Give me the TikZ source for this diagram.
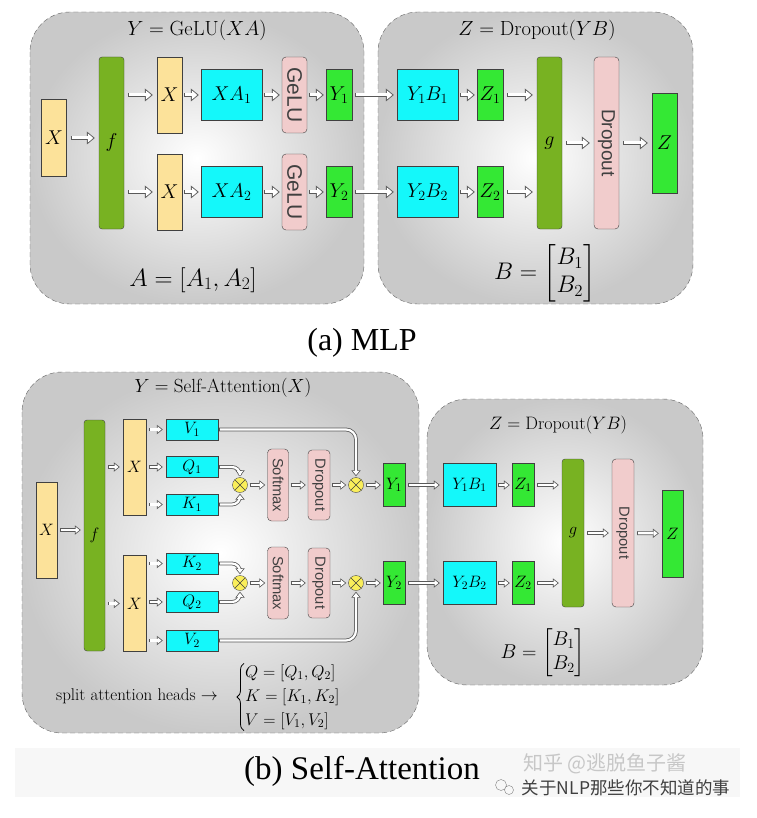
\RequirePackage{fix-cm}
\documentclass[tikz,border=0pt]{standalone}
\usepackage{amsmath,amssymb}
\usepackage{fontspec}
\usepackage{xcolor}
\usepackage{tikz}
\usetikzlibrary{arrows.meta,calc,positioning,decorations.pathreplacing}
\newfontfamily\hsans{Liberation Sans}
\newfontfamily\capfont{Liberation Serif}
\newfontfamily\cjk{Noto Sans CJK SC}
\definecolor{xyel}{RGB}{252,226,154}
\definecolor{fgrn}{RGB}{120,178,34}
\definecolor{ycyan}{RGB}{20,248,250}
\definecolor{gpink}{RGB}{241,204,204}
\definecolor{ygrn}{RGB}{52,232,52}
\definecolor{mulyel}{RGB}{250,238,90}

\begin{document}
\begin{tikzpicture}[x=1pt, y=-1pt,
    panel/.style={draw=black!60, dash pattern=on 5pt off 3pt, rounded corners=40pt, inner color=white, outer color=black!21},
    bx/.style={draw=black!75, inner sep=0pt},
    inbox/.style={bx, fill=xyel},
    fbox/.style={bx, fill=fgrn, rounded corners=3pt},
    cybox/.style={bx, fill=ycyan},
    pkbox/.style={bx, fill=gpink, rounded corners=4pt, text=black!75},
    grbox/.style={bx, fill=ygrn},
    mul/.style={circle, draw=black!70, fill=mulyel, minimum size=15pt, inner sep=0pt,
        path picture={\draw[black!75] (path picture bounding box.south west) -- (path picture bounding box.north east)
            (path picture bounding box.north west) -- (path picture bounding box.south east);}},
    % hollow arrows, (a) and (b) sizes
    harr/.style={draw=white, line width=3pt, -{Triangle[length=5.6pt, width=9.2pt, line width=0pt]},
        shorten >=#1+1.45pt, shorten <=#1+0.9pt,
        preaction={draw=black!65, line width=4.8pt, -{Triangle[length=8pt, width=13pt, line width=0pt]},
            shorten >=#1, shorten <=#1}},
    harr/.default=4pt,
    sarr/.style={draw=white, line width=2.2pt, -{Triangle[length=3.9pt, width=6.2pt, line width=0pt]},
        shorten >=#1+1.3pt, shorten <=#1+0.8pt,
        preaction={draw=black!65, line width=3.8pt, -{Triangle[length=6pt, width=9.5pt, line width=0pt]},
            shorten >=#1, shorten <=#1}},
    sarr/.default=3pt,
    big/.style={font=\fontsize{20}{23}\selectfont},
    small/.style={font=\fontsize{16.5}{19}\selectfont},
    eqn/.style={anchor=west, inner sep=1pt, font=\fontsize{17}{19.5}\selectfont}
]
\useasboundingbox (0,0) rectangle (756,818);

% ---------------- (a) MLP ----------------
\shadedraw[panel] (30,12) rectangle (364,304);
\shadedraw[panel] (378,12) rectangle (693,304);
\node[font=\fontsize{20.5}{24}\selectfont] (ttla) at (197,30) {$Y = \mathrm{GeLU}(XA)$};
\node[font=\fontsize{20.5}{24}\selectfont] (ttlza) at (537,30) {$Z = \mathrm{Dropout}(YB)$};

\node[inbox, big, minimum width=25pt, minimum height=77pt] (xa) at (54,138) {$X$};
\node[fbox, big, minimum width=25pt, minimum height=172pt] (fa) at (111.5,143) {$f$};
\foreach \i/\y in {1/95, 2/192} {
    \node[inbox, big, minimum width=25pt, minimum height=76pt] (xa\i) at (169.5,\y) {$X$};
    \node[cybox, big, minimum width=61pt, minimum height=51pt] (xaa\i) at (231.5,\y) {$XA_\i$};
    \node[pkbox, minimum width=25pt, minimum height=76pt, font=\hsans\fontsize{21}{23}\selectfont] (gelu\i) at (294.5,\y) {\rotatebox{-90}{GeLU}};
    \node[grbox, big, minimum width=26pt, minimum height=51pt] (ya\i) at (339,\y) {$Y_\i$};
    \node[cybox, big, minimum width=61pt, minimum height=51pt] (yba\i) at (427.5,\y) {$Y_\i B_\i$};
    \node[grbox, big, minimum width=26pt, minimum height=51pt] (za\i) at (490,\y) {$Z_\i$};
}
\node[fbox, big, minimum width=25pt, minimum height=172pt] (ga) at (549.5,143) {$g$};
\node[pkbox, minimum width=25pt, minimum height=172pt, font=\hsans\fontsize{19}{21}\selectfont] (dra) at (606.5,143) {\rotatebox{-90}{Dropout}};
\node[grbox, big, minimum width=25pt, minimum height=100pt] (zouta) at (664.5,143) {$Z$};

\draw[harr] (xa) -- (xa -| fa.west);
\foreach \i in {1,2} {
    \draw[harr] (fa.east |- xa\i) -- (xa\i.west);
    \draw[harr=2pt] (xa\i) -- (xaa\i);
    \draw[harr=2pt] (xaa\i) -- (gelu\i);
    \draw[harr=2pt] (gelu\i) -- (ya\i);
    \draw[harr=3pt] (ya\i) -- (yba\i);
    \draw[harr=2pt] (yba\i) -- (za\i);
    \draw[harr] (za\i) -- (za\i -| ga.west);
}
\draw[harr] (ga) -- (dra);
\draw[harr] (dra) -- (zouta);

\node[font=\fontsize{25}{28}\selectfont] (amat) at (193,280) {$A = [A_1, A_2]$};
\node[font=\fontsize{24}{28}\selectfont] (bmata) at (545,273) {$B = \begin{bmatrix} B_1\\ B_2 \end{bmatrix}$};
\node[font=\capfont\fontsize{32}{36}\selectfont] (capa) at (362,343) {(a) MLP};

% ---------------- (b) Self-Attention ----------------
\shadedraw[panel] (22,372) rectangle (419,733);
\shadedraw[panel] (427,399) rectangle (703,685);
\node[font=\fontsize{19}{22}\selectfont] (ttlb) at (223,388) {$Y = \mathrm{Self\text{-}Attention}(X)$};
\node[font=\fontsize{18}{22}\selectfont] (ttlzb) at (558,425) {$Z = \mathrm{Dropout}(YB)$};

\node[inbox, small, minimum width=21pt, minimum height=96pt] (xb) at (46.5,530) {$X$};
\node[fbox, small, minimum width=21pt, minimum height=231pt] (fb) at (94.5,535.5) {$f$};
\node[inbox, small, minimum width=23pt, minimum height=96pt] (xb1) at (134.5,467) {$X$};
\node[inbox, small, minimum width=23pt, minimum height=96pt] (xb2) at (134.5,603.5) {$X$};
\node[cybox, small, minimum width=52pt, minimum height=21pt] (v1) at (192,429.5) {$V_1$};
\node[cybox, small, minimum width=52pt, minimum height=21pt] (q1) at (192,467) {$Q_1$};
\node[cybox, small, minimum width=52pt, minimum height=21pt] (k1) at (192,504.5) {$K_1$};
\node[cybox, small, minimum width=52pt, minimum height=21pt] (k2) at (192,563.5) {$K_2$};
\node[cybox, small, minimum width=52pt, minimum height=21pt] (q2) at (192,602) {$Q_2$};
\node[cybox, small, minimum width=52pt, minimum height=21pt] (v2) at (192,640.5) {$V_2$};
\foreach \i/\y in {1/485, 2/583} {
    \node[mul] (m\i) at (240,\y) {};
    \node[pkbox, minimum width=21pt, minimum height=72pt, font=\hsans\fontsize{14.7}{16}\selectfont] (sm\i) at (278,\y) {\rotatebox{-90}{Softmax}};
    \node[pkbox, minimum width=22pt, minimum height=70pt, font=\hsans\fontsize{14.7}{16}\selectfont] (dr\i) at (319,\y) {\rotatebox{-90}{Dropout}};
    \node[mul] (mo\i) at (356,\y) {};
    \node[grbox, small, minimum width=22pt, minimum height=43pt] (yy\i) at (394,\y) {$Y_\i$};
    \node[cybox, small, minimum width=53pt, minimum height=43pt] (ybb\i) at (469.5,\y) {$Y_\i B_\i$};
    \node[grbox, small, minimum width=22pt, minimum height=43pt] (zb\i) at (523,\y) {$Z_\i$};
}
\node[fbox, small, minimum width=22pt, minimum height=148pt] (gb) at (573,533) {$g$};
\node[pkbox, minimum width=22pt, minimum height=148pt, font=\hsans\fontsize{14.7}{16}\selectfont] (drb) at (623,533) {\rotatebox{-90}{Dropout}};
\node[grbox, small, minimum width=21pt, minimum height=87pt] (zoutb) at (672.5,533.5) {$Z$};

\draw[sarr] (xb) -- (xb -| fb.west);
\draw[sarr] (fb.east |- xb1) -- (xb1.west);
\draw[sarr] (fb.east |- xb2) -- (xb2.west);
\foreach \n in {v1,q1,k1} \draw[sarr] (xb1.east |- \n) -- (\n.west);
\foreach \n in {k2,q2,v2} \draw[sarr] (xb2.east |- \n) -- (\n.west);
\draw[sarr=1pt, rounded corners=8pt] (q1.east) -| (m1.north);
\draw[sarr=1pt, rounded corners=8pt] (k1.east) -| (m1.south);
\draw[sarr=1pt, rounded corners=10pt] (v1.east) -| (mo1.north);
\draw[sarr=1pt, rounded corners=8pt] (k2.east) -| (m2.north);
\draw[sarr=1pt, rounded corners=8pt] (q2.east) -| (m2.south);
\draw[sarr=1pt, rounded corners=10pt] (v2.east) -| (mo2.south);
\foreach \i in {1,2} {
    \draw[sarr=2pt] (m\i) -- (sm\i);
    \draw[sarr=2pt] (sm\i) -- (dr\i);
    \draw[sarr=2pt] (dr\i) -- (mo\i);
    \draw[sarr=2pt] (mo\i) -- (yy\i);
    \draw[sarr] (yy\i) -- (ybb\i);
    \draw[sarr=2pt] (ybb\i) -- (zb\i);
    \draw[sarr] (zb\i) -- (zb\i -| gb.west);
}
\draw[sarr] (gb) -- (drb);
\draw[sarr] (drb) -- (zoutb);

% split attention heads
\node[font=\fontsize{17}{19.5}\selectfont] (split) at (137,696) {split attention heads $\rightarrow$};
\node[eqn] (eqq) at (244,673) {$Q = [Q_1, Q_2]$};
\node[eqn] (eqk) at (244,697) {$K = [K_1, K_2]$};
\node[eqn] (eqv) at (244,721) {$V = [V_1, V_2]$};
\draw[black, line width=0.8pt, decorate, decoration={brace, amplitude=7pt}] (eqv.south west) -- (eqq.north west);
\node[font=\fontsize{20}{24}\selectfont] (bmatb) at (543,653) {$B = \begin{bmatrix} B_1\\ B_2 \end{bmatrix}$};

% caption strip and watermark
\fill[black!3] (15,748) rectangle (740,797);
\node[font=\capfont\fontsize{33}{37}\selectfont] (capb) at (362,771) {(b) Self-Attention};
\node[font=\cjk\fontsize{20}{22}\selectfont, text=black!22] (wm1) at (605,764) {知乎 @逃脱鱼子酱};
\node[font=\cjk\fontsize{17.5}{20}\selectfont, text=black!75] (wm2) at (626,788) {关于NLP那些你不知道的事};
\draw[black!50] (501,785) circle (5.5pt) (509,790) circle (4.5pt);
\end{tikzpicture}
\end{document}
